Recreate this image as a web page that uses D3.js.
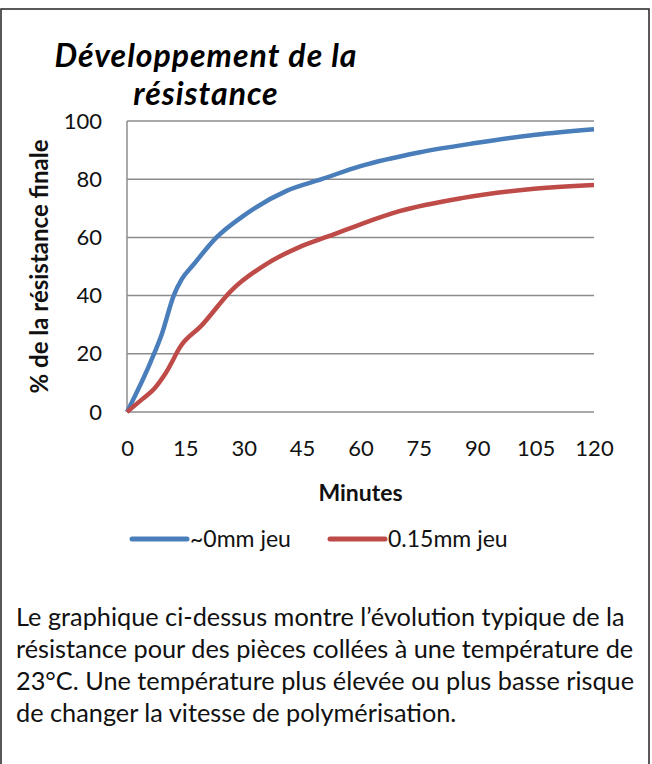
<!DOCTYPE html>
<html>
<head>
<meta charset="utf-8">
<script src="https://cdn.jsdelivr.net/npm/d3@7"></script>
<style>
  html, body { margin: 0; padding: 0; background: #fff; }
  svg { display: block; font-family: Lato, "Open Sans", sans-serif; }
</style>
</head>
<body>
<svg id="chart"></svg>
<script>
// minutes after bonding
const minutesTight = [0, 6, 9, 12, 14, 17, 23, 30, 41, 50, 60, 75, 90, 105, 120];
const tightJoint = [0, 17, 27, 40, 45.5, 50.5, 60, 67.5, 76, 80, 84.5, 89.2, 92.5, 95.3, 97.2]; // ~0mm jeu
const minutesGap = [0, 4, 7, 10, 14, 19, 27, 36, 44, 52, 60, 70, 86, 104, 120];
const gapJoint = [0, 4.5, 8, 13.5, 23, 29.5, 42, 51, 56.5, 60.5, 64.5, 69, 73.5, 76.6, 78]; // 0.15mm jeu

const seriesNames = ["~0mm jeu", "0.15mm jeu"];
const seriesColors = ["#4a7ebb", "#be4b48"];
const xTicks = [0, 15, 30, 45, 60, 75, 90, 105, 120];
const yTicks = [0, 20, 40, 60, 80, 100];

const titleLines = ["Développement de la", "résistance"];
const yLabel = "% de la résistance finale";
const xLabel = "Minutes";
const note = [
  "Le graphique ci-dessus montre l’évolution typique de la",
  "résistance pour des pièces collées à une température de",
  "23°C. Une température plus élevée ou plus basse risque",
  "de changer la vitesse de polymérisation."
];

const width = 652, height = 764;
const margin = {top: 121, right: 58, bottom: 352, left: 127};

const series = [
  minutesTight.map((m, i) => [m, tightJoint[i]]),
  minutesGap.map((m, i) => [m, gapJoint[i]])
];

const svg = d3.select("#chart")
    .attr("width", width)
    .attr("height", height)
    .attr("viewBox", [0, 0, width, height]);

// frame around the whole figure
svg.append("rect")
    .attr("x", 1).attr("y", 9)
    .attr("width", 648).attr("height", 780)
    .attr("fill", "none")
    .attr("stroke", "#222")
    .attr("stroke-width", 1.5);

const x = d3.scaleLinear([0, 120], [margin.left, width - margin.right]);
const y = d3.scaleLinear([0, 100], [height - margin.bottom, margin.top]);

// gridlines
svg.append("g")
    .attr("stroke", "#8c8c8c")
    .attr("stroke-width", 1.5)
  .selectAll("line")
  .data(yTicks)
  .join("line")
    .attr("x1", margin.left)
    .attr("x2", width - margin.right)
    .attr("y1", d => y(d))
    .attr("y2", d => y(d));

svg.append("line")
    .attr("x1", margin.left).attr("x2", margin.left)
    .attr("y1", y(0)).attr("y2", y(100))
    .attr("stroke", "#8c8c8c")
    .attr("stroke-width", 1.5);

// y axis
svg.append("g")
    .attr("transform", `translate(${margin.left},0)`)
    .call(d3.axisLeft(y).tickValues(yTicks).tickSize(0).tickPadding(25))
    .call(g => g.select(".domain").remove())
    .call(g => g.selectAll("text")
        .attr("font-family", "Lato, sans-serif")
        .attr("font-size", 22)
        .attr("fill", "#111"));

// x axis
svg.append("g")
    .attr("transform", `translate(0,${y(0)})`)
    .call(d3.axisBottom(x).tickValues(xTicks).tickSize(0).tickPadding(28))
    .call(g => g.select(".domain").remove())
    .call(g => g.selectAll("text")
        .attr("font-family", "Lato, sans-serif")
        .attr("font-size", 22)
        .attr("fill", "#111"));

svg.append("text")
    .attr("x", (margin.left + width - margin.right) / 2)
    .attr("y", 501)
    .attr("text-anchor", "middle")
    .attr("font-size", 23)
    .attr("font-weight", "bold")
    .attr("fill", "#111")
    .text(xLabel);

svg.append("text")
    .attr("transform", `translate(48,${(y(0) + y(100)) / 2}) rotate(-90)`)
    .attr("text-anchor", "middle")
    .attr("font-size", 24)
    .attr("font-weight", "bold")
    .attr("fill", "#111")
    .text(yLabel);

// title
svg.append("g")
    .attr("font-size", 32)
    .attr("font-weight", "bold")
    .attr("font-style", "italic")
    .attr("letter-spacing", 1)
    .attr("fill", "#000")
  .selectAll("text")
  .data(titleLines)
  .join("text")
    .attr("x", 206)
    .attr("y", (d, i) => 67 + i * 38)
    .attr("text-anchor", "middle")
    .text(d => d);

// lines
const line = d3.line()
    .curve(d3.curveMonotoneX)
    .x(d => x(d[0]))
    .y(d => y(d[1]));

svg.append("g")
    .attr("fill", "none")
    .attr("stroke-width", 4.5)
    .attr("stroke-linejoin", "round")
  .selectAll("path")
  .data(series)
  .join("path")
    .attr("stroke", (d, i) => seriesColors[i])
    .attr("d", line);

// legend
const legendX = [132, 330];
const legend = svg.append("g")
  .selectAll("g")
  .data(seriesNames)
  .join("g")
    .attr("transform", (d, i) => `translate(${legendX[i]},539)`);
legend.append("line")
    .attr("x1", 0).attr("x2", 55)
    .attr("stroke", (d, i) => seriesColors[i])
    .attr("stroke-width", 5)
    .attr("stroke-linecap", "round");
legend.append("text")
    .attr("x", 58)
    .attr("dy", "0.35em")
    .attr("font-size", 23)
    .attr("fill", "#111")
    .text(d => d);

// explanatory note below the chart
const noteText = svg.append("g")
    .attr("font-size", 21)
    .attr("fill", "#111")
  .selectAll("text")
  .data(note)
  .join("text")
    .attr("x", 16)
    .attr("y", (d, i) => 626 + i * 32)
    .text(d => d);

// size the first line to the reference width, reuse that size for the rest
const w0 = noteText.node().getComputedTextLength();
noteText.attr("font-size", 21 * 609 / w0);
</script>
</body>
</html>
